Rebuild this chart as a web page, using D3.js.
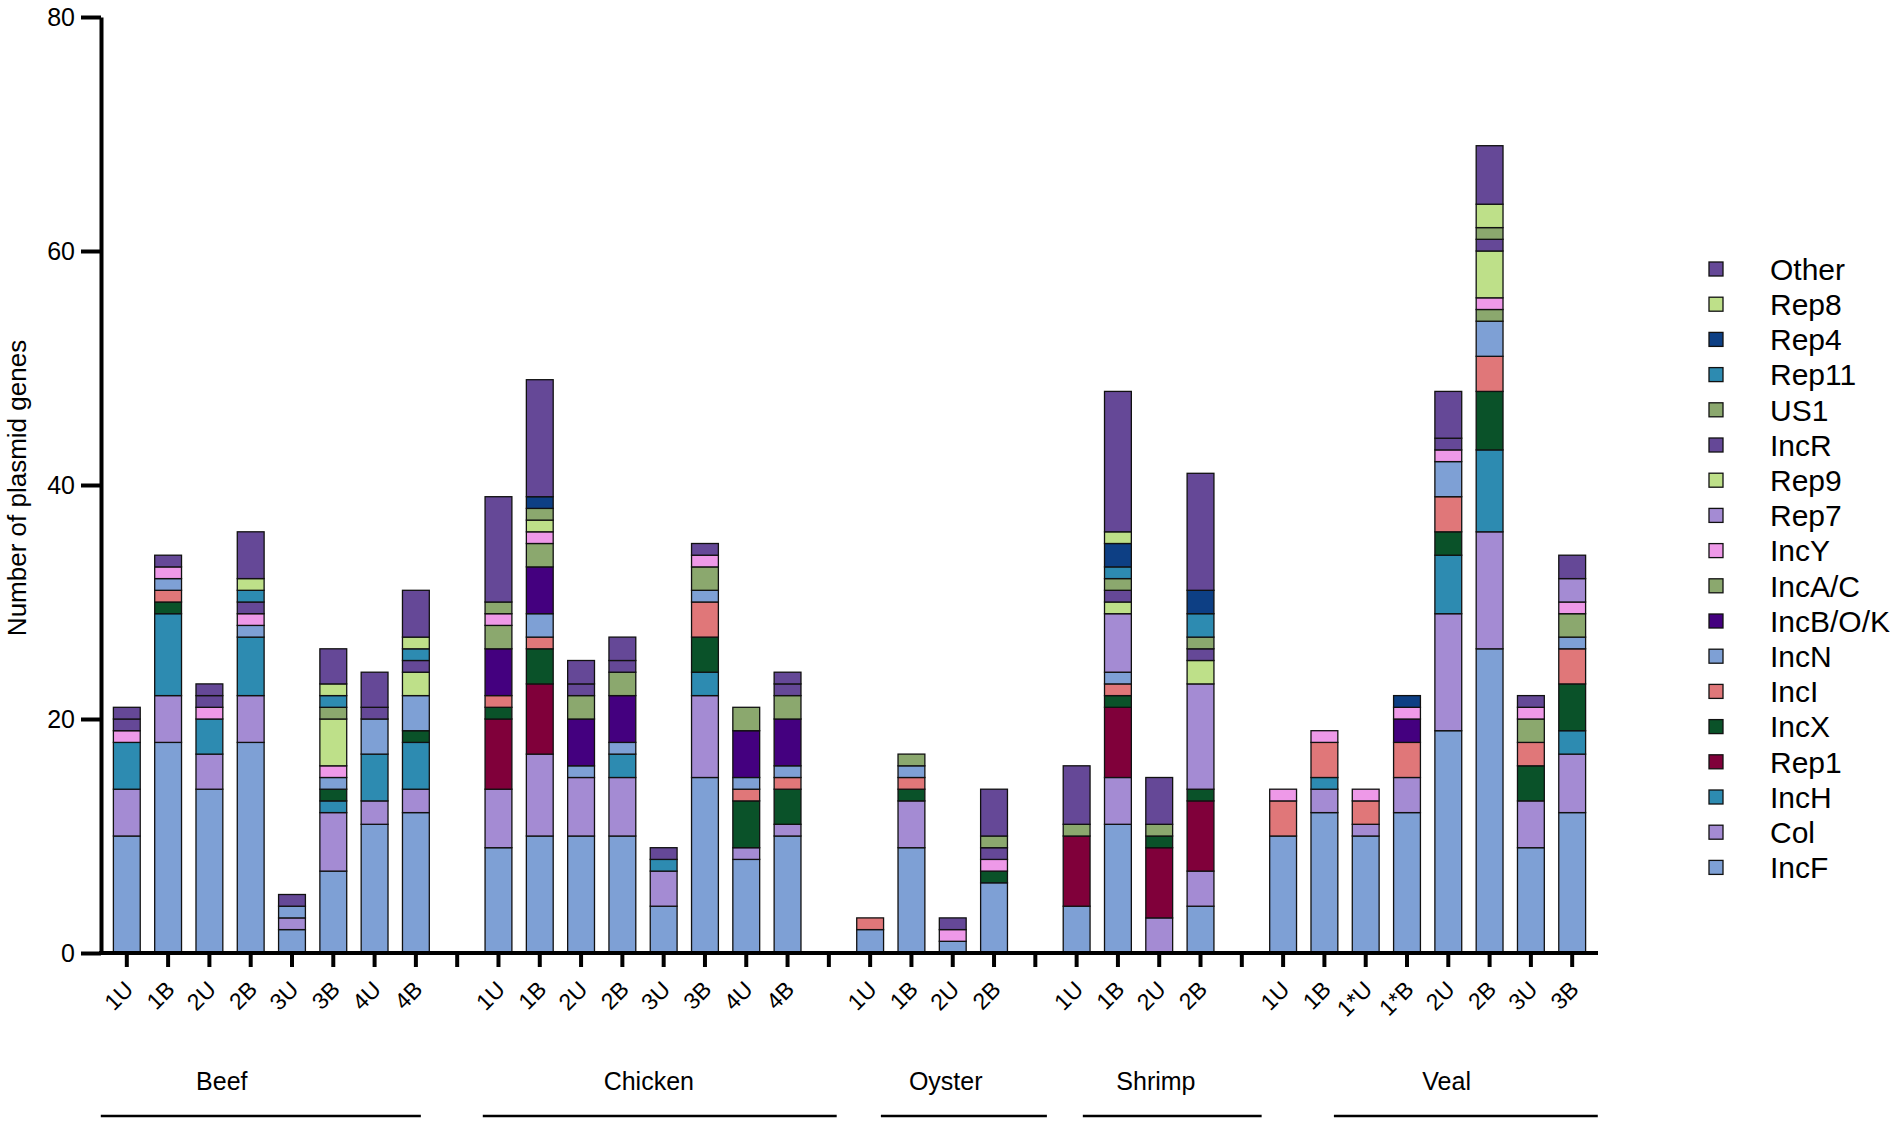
<!DOCTYPE html>
<html>
<head>
<meta charset="utf-8">
<script src="https://cdn.jsdelivr.net/npm/d3@7"></script>
<style>
body{margin:0;background:#fff;}
svg{display:block;font-family:"Liberation Sans",Arial,Helvetica,sans-serif;}
</style>
</head>
<body>
<svg id="chart" width="1902" height="1125"></svg>
<script>
//////////////////////
// data
//////////////////////
var groups=['Beef','Chicken','Oyster','Shrimp','Veal'];
var samples={
	Beef:['1U','1B','2U','2B','3U','3B','4U','4B'],
	Chicken:['1U','1B','2U','2B','3U','3B','4U','4B'],
	Oyster:['1U','1B','2U','2B'],
	Shrimp:['1U','1B','2U','2B'],
	Veal:['1U','1B','1*U','1*B','2U','2B','3U','3B']
};
var yTicks=[0,20,40,60,80];

// one value per bar, bars in order Beef..Veal (stacked bottom to top in this order)
var IncF  =[10,18,14,18,2,7,11,12, 9,10,10,10,4,15,8,10, 2,9,1,6, 4,11,0,4, 10,12,10,12,19,26,9,12];
var Col   =[4,4,3,4,1,5,2,2, 5,7,5,5,3,7,1,1, 0,4,0,0, 0,4,3,3, 0,2,1,3,10,10,4,5];
var IncH  =[4,7,3,5,0,1,4,4, 0,0,0,2,1,2,0,0, 0,0,0,0, 0,0,0,0, 0,1,0,0,5,7,0,2];
var Rep1  =[0,0,0,0,0,0,0,0, 6,6,0,0,0,0,0,0, 0,0,0,0, 6,6,6,6, 0,0,0,0,0,0,0,0];
var IncX  =[0,1,0,0,0,1,0,1, 1,3,0,0,0,3,4,3, 0,1,0,1, 0,1,1,1, 0,0,0,0,2,5,3,4];
var IncI  =[0,1,0,0,0,0,0,0, 1,1,0,0,0,3,1,1, 1,1,0,0, 0,1,0,0, 3,3,2,3,3,3,2,3];
var IncN  =[0,1,0,1,1,1,3,3, 0,2,1,1,0,1,1,1, 0,1,0,0, 0,1,0,0, 0,0,0,0,3,3,0,1];
var IncBOK=[0,0,0,0,0,0,0,0, 4,4,4,4,0,0,4,4, 0,0,0,0, 0,0,0,0, 0,0,0,2,0,0,0,0];
var IncAC =[0,0,0,0,0,0,0,0, 2,2,2,2,0,2,2,2, 0,1,0,0, 1,0,1,0, 0,0,0,0,0,1,2,2];
var IncY  =[1,1,1,1,0,1,0,0, 1,1,0,0,0,1,0,0, 0,0,1,1, 0,0,0,0, 1,1,1,1,1,1,1,1];
var Rep7  =[0,0,0,0,0,0,0,0, 0,0,0,0,0,0,0,0, 0,0,0,0, 0,5,0,9, 0,0,0,0,0,0,0,2];
var Rep9  =[0,0,0,0,0,4,0,2, 0,1,0,0,0,0,0,0, 0,0,0,0, 0,1,0,2, 0,0,0,0,0,4,0,0];
var IncR  =[1,0,1,1,0,0,1,1, 0,0,1,1,0,0,0,1, 0,0,0,1, 0,1,0,1, 0,0,0,0,1,1,0,0];
var US1   =[0,0,0,0,0,1,0,0, 1,1,0,0,0,0,0,0, 0,0,0,1, 0,1,0,1, 0,0,0,0,0,1,0,0];
var Rep11 =[0,0,0,1,0,1,0,1, 0,0,0,0,0,0,0,0, 0,0,0,0, 0,1,0,2, 0,0,0,0,0,0,0,0];
var Rep4  =[0,0,0,0,0,0,0,0, 0,1,0,0,0,0,0,0, 0,0,0,0, 0,2,0,2, 0,0,0,1,0,0,0,0];
var Rep8  =[0,0,0,1,0,1,0,1, 0,0,0,0,0,0,0,0, 0,0,0,0, 0,1,0,0, 0,0,0,0,0,2,0,0];
var Other =[1,1,1,4,1,3,3,4, 9,10,2,2,1,1,0,1, 0,0,1,4, 5,12,4,10, 0,0,0,0,4,5,1,2];

var seriesNames=['IncF','Col','IncH','Rep1','IncX','IncI','IncN','IncB/O/K','IncA/C','IncY','Rep7','Rep9','IncR','US1','Rep11','Rep4','Rep8','Other'];
var seriesValues=[IncF,Col,IncH,Rep1,IncX,IncI,IncN,IncBOK,IncAC,IncY,Rep7,Rep9,IncR,US1,Rep11,Rep4,Rep8,Other];
var seriesColors=['#7ea0d5','#a48bd3','#2d8bb1','#80003a','#0a5229','#e07779','#7ea0d5','#44007f','#8ba86e','#ee99e8',
	'#a48bd3','#bee089','#654897','#8ba86e','#2d8bb1','#0d3f84','#bee089','#654897'];

//////////////////////
// layout
//////////////////////
var X0=101, X1=1598, Y0=953, Y1=17;
// group underline start/end and label centre, in slot units
var groupMarks={Beef:[-0.63,7.12,2.30],Chicken:[8.62,17.19,12.64],Oyster:[18.26,22.28,19.83],Shrimp:[23.15,27.48,24.92],Veal:[29.23,35.62,31.96]};

var slots=[], bars=[];
groups.forEach(function(g,gi){
	samples[g].forEach(function(s){
		var k=g+'|'+s;
		slots.push(k);
		bars.push({key:k,group:g,label:s});
	});
	if(gi<groups.length-1) slots.push('gap'+gi);
});
var labelOf={};
bars.forEach(function(b){labelOf[b.key]=b.label;});

var table=bars.map(function(b,i){
	var row={key:b.key};
	seriesNames.forEach(function(n,j){row[n]=seriesValues[j][i];});
	return row;
});

var svg=d3.select('#chart');
var x=d3.scaleBand().domain(slots).range([X0,X1]).paddingInner(0.35).paddingOuter(0.3);
var y=d3.scaleLinear().domain([0,80]).range([Y0,Y1]);
var slotX=d3.scaleLinear().domain([0,slots.length-1])
	.range([x(slots[0])+x.bandwidth()/2,x(slots[slots.length-1])+x.bandwidth()/2]);
var color=d3.scaleOrdinal().domain(seriesNames).range(seriesColors);

var stack=d3.stack().keys(seriesNames)(table);

svg.append('g').selectAll('g').data(stack).join('g')
	.attr('fill',function(d){return color(d.key);})
	.selectAll('rect').data(function(d){return d.filter(function(p){return p[1]>p[0];});}).join('rect')
	.attr('x',function(p){return x(p.data.key);})
	.attr('width',x.bandwidth())
	.attr('y',function(p){return y(p[1]);})
	.attr('height',function(p){return y(p[0])-y(p[1]);})
	.attr('stroke','#111').attr('stroke-width',1.3);

// y axis
var ya=svg.append('g').attr('transform','translate('+X0+',0)')
	.call(d3.axisLeft(y).tickValues(yTicks).tickSize(20).tickSizeOuter(0).tickPadding(6));
ya.select('.domain').attr('stroke-width',4).attr('stroke','#000');
ya.selectAll('.tick line').attr('stroke-width',4).attr('stroke','#000');
ya.selectAll('.tick text').attr('font-size',25).attr('fill','#000').attr('font-family','Liberation Sans, Arial, sans-serif');

// x axis
var xa=svg.append('g').attr('transform','translate(0,'+Y0+')')
	.call(d3.axisBottom(x).tickSize(14).tickSizeOuter(0).tickFormat(function(k){return labelOf[k]||'';}));
xa.select('.domain').attr('stroke-width',4).attr('stroke','#000').attr('d','M'+(X0-2)+',0H'+X1);
xa.selectAll('.tick line').attr('stroke-width',4).attr('stroke','#000');
xa.selectAll('.tick text')
	.attr('font-size',23).attr('fill','#000').attr('font-family','Liberation Sans, Arial, sans-serif')
	.attr('text-anchor','end').attr('dy',null).attr('y',null)
	.attr('transform','translate(8,38) rotate(-45)');

// y title
svg.append('text')
	.attr('transform','translate(26,'+((Y0+Y1)/2+3)+') rotate(-90)')
	.attr('text-anchor','middle').attr('font-size',26)
	.text('Number of plasmid genes');

// group labels
groups.forEach(function(g){
	var m=groupMarks[g];
	svg.append('line').attr('x1',slotX(m[0])).attr('x2',slotX(m[1]))
		.attr('y1',1116).attr('y2',1116).attr('stroke','#000').attr('stroke-width',2.5);
	svg.append('text').attr('x',slotX(m[2])).attr('y',1090)
		.attr('text-anchor','middle').attr('font-size',25).text(g);
});

// legend
var leg=svg.append('g').attr('transform','translate(1709,269)');
var legItems=seriesNames.slice().reverse();
var li=leg.selectAll('g').data(legItems).join('g')
	.attr('transform',function(d,i){return 'translate(0,'+(i*35.2)+')';});
li.append('rect').attr('x',0).attr('y',-7).attr('width',14).attr('height',14)
	.attr('fill',function(d){return color(d);}).attr('stroke','#111').attr('stroke-width',1.3);
li.append('text').attr('x',61).attr('y',0).attr('dy','0.36em').attr('font-size',30).text(function(d){return d;});
</script>
</body>
</html>
